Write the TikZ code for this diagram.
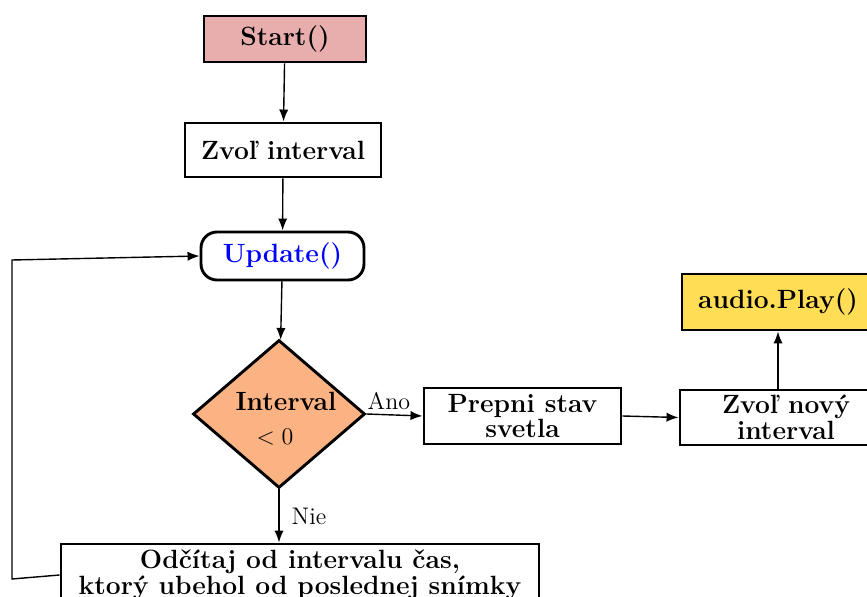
\documentclass[tikz,border=0pt]{standalone}
\usetikzlibrary{shapes.geometric,arrows.meta}
\definecolor{startfill}{HTML}{E8AEAE}
\definecolor{decfill}{HTML}{FCB383}
\definecolor{audiofill}{HTML}{FFDD55}
\tikzset{
  box/.style={draw, line width=1.45pt, inner sep=0pt, align=center,
    font=\fontsize{13.2}{11.5}\selectfont\bfseries},
  dec/.style={draw, line width=1.45pt, diamond, inner sep=0pt,
    fill=decfill, minimum width=86pt, minimum height=74pt,
    font=\fontsize{13.2}{15}\selectfont},
  conn/.style={line width=0.7pt, -{Latex[length=6pt,width=4.6pt]}},
  lbl/.style={font=\fontsize{12}{14}\selectfont, inner sep=0pt}
}
\begin{document}
\begin{tikzpicture}[x=0.5pt,y=-0.5pt]
\useasboundingbox (0,0) rectangle (867,597);
\node[box, fill=startfill, minimum width=81pt, minimum height=23pt] (start) at (285,39) {Start()};
\node[box, minimum width=98pt, minimum height=27pt] (zvol) at (283,150) {Zvoľ interval};
\node[box, rounded corners=8pt, minimum width=81.5pt, minimum height=24pt, text=blue] (update) at (282.5,256) {Update()};
\node[dec] (dec) at (279,414) {\raisebox{-6.9pt}[0pt][0pt]{\makebox[0pt]{\begin{tabular}{@{}c@{}}\hspace*{7pt}\textbf{Interval}\\[2pt]$<0$\hspace*{4pt}\end{tabular}}}};
\node[box, minimum width=98.5pt, minimum height=28pt] (prep) at (522.5,416) {Prepni stav\\svetla};
\node[box, minimum width=106pt, minimum height=27.5pt, font=\fontsize{13.2}{10}\selectfont\bfseries] (novy) at (786,417.5) {Zvoľ nový\\interval};
\node[box, fill=audiofill, minimum width=96pt, minimum height=28pt] (audio) at (778,302) {audio.Play()};
\node[box, minimum width=239pt, minimum height=31pt] (sub) at (300,575) {Odčítaj od intervalu čas,\\ktorý ubehol od poslednej snímky};
\coordinate (l1) at (12,579);
\coordinate (l2) at (12,260);
\draw[conn] (start) -- (zvol);
\draw[conn] (zvol) -- (update);
\draw[conn] (update) -- (dec);
\draw[conn] (dec.east) -- (prep.west) node[lbl, pos=0.4, above=2pt] (ano) {Ano};
\draw[conn] (prep.east) -- (novy.west);
\draw[conn] (novy.north -| audio.south) -- (audio.south);
\draw[conn] (dec.south) -- (dec.south |- sub.north) node[lbl, midway, right=6pt] (nie) {Nie};
\draw[conn] (sub.west) -- (l1) -- (l2) -- (update.west);
\end{tikzpicture}
\end{document}
